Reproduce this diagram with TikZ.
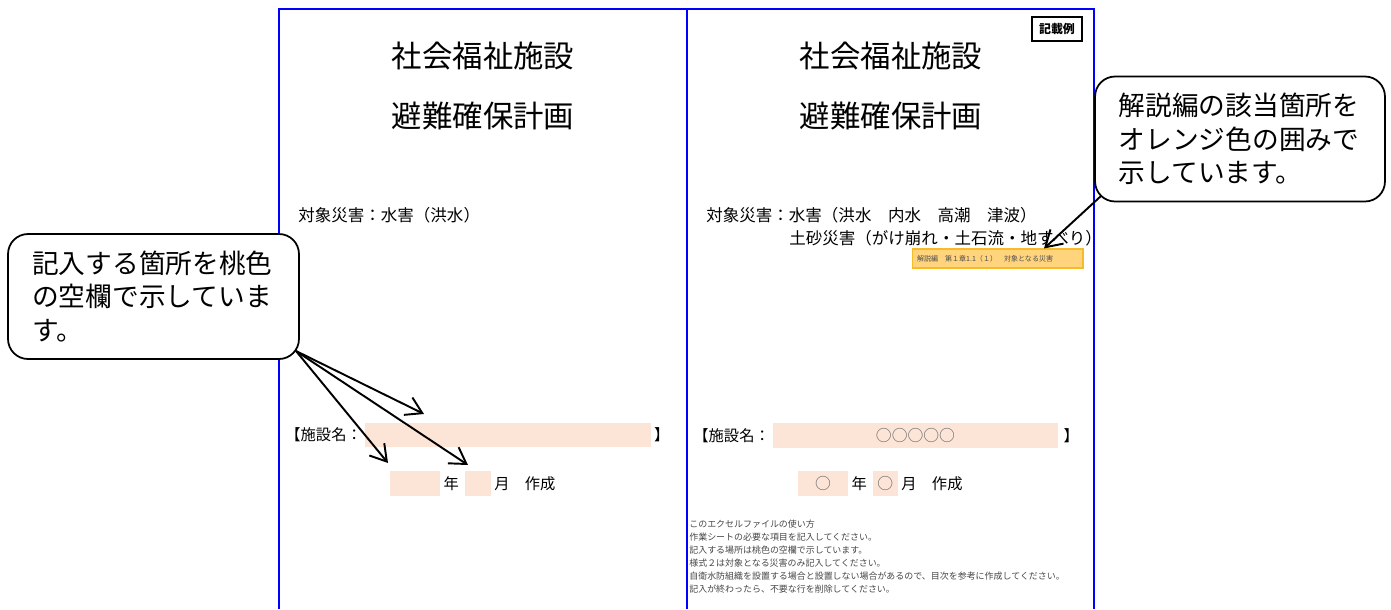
\documentclass[tikz,border=0pt]{standalone}
\usepackage{fontspec}
\setmainfont{Noto Sans CJK JP}
\usepackage{tikz}
\usetikzlibrary{arrows.meta}
\usetikzlibrary{positioning}
\definecolor{peach}{RGB}{252,228,214}
\definecolor{amber}{RGB}{255,212,125}
\definecolor{amberline}{RGB}{247,186,40}
\definecolor{notegray}{RGB}{70,70,70}
\tikzstyle{frame} = [draw=blue, line width=0.6pt]
\tikzstyle{line} = [draw, line width=1.1pt, -{Straight Barb[length=9pt,width=11pt]}]
\tikzstyle{bubble} = [draw, line width=1pt, rounded corners=0.4cm, fill=white,
align=left, text width=138pt, inner xsep=13.5pt, minimum height=2.5cm,
font=\fontsize{15.2pt}{19pt}\selectfont]
\tikzstyle{heading} = [inner sep=0pt, font=\fontsize{17.3pt}{20pt}\selectfont]
\tikzstyle{body} = [inner sep=0pt, font=\fontsize{9.4pt}{11pt}\selectfont]
\tikzstyle{form} = [inner sep=0pt, font=\fontsize{8.7pt}{10pt}\selectfont]

\begin{document}
\begin{tikzpicture}[x=0.02cm, y=-0.02cm, auto,
	field/.style={fill=peach, inner sep=0pt, minimum height=0.49cm,
		font=\fontsize{9pt}{10pt}\selectfont, text=black!60}]
    \useasboundingbox (0,0) rectangle (1391,609);
	%% Pages
    \draw [frame] (279,609) -- (279,9) -- (1094,9) -- (1094,609);
    \draw [frame, line width=1.3pt] (687,9) -- (687,609);
	%% Left page
    \node [heading] (ltitle) at (483,56) {社会福祉施設};
    \node [heading] (lplan) at (483,116) {避難確保計画};
    \node [body, anchor=west] (lhaz) at (298,215) {対象災害：水害（洪水）};
    \node [field, minimum width=5.72cm] (lname) at (508,435) {};
    \node [form, left=0.05cm of lname] (llabel) {【施設名：};
    \node [form, right=0.05cm of lname] (lclose) {】};
    \node [field, minimum width=1cm] (lyear) at (415,483.5) {};
    \node [form, right=0.06cm of lyear] (lnen) {年};
    \node [field, minimum width=0.52cm, right=0.1cm of lnen] (lmonth) {};
    \node [form, right=0.06cm of lmonth] (lgatsu) {月　作成};
	%% Right page
    \node [draw, line width=0.8pt, minimum width=1cm, minimum height=0.48cm,
		inner sep=0pt, font=\fontsize{6.8pt}{8pt}\selectfont\bfseries] (sample) at (1057,29) {記載例};
    \node [heading] (rtitle) at (891,56) {社会福祉施設};
    \node [heading] (rplan) at (891,116) {避難確保計画};
    \node [body, anchor=west] (rhaz) at (706,215) {対象災害：水害（洪水　内水　高潮　津波）};
    \node [body, anchor=west] (rhazb) at (789,238) {土砂災害（がけ崩れ・土石流・地すべり）};
    \node [draw=amberline, fill=amber, line width=0.6pt, minimum width=3.42cm,
		minimum height=0.38cm, inner xsep=0.1cm, text width=3.22cm, align=left,
		font=\fontsize{4pt}{5pt}\selectfont, text=black!70] (ref) at (997.5,258.5)
		{解説編　第１章1.1（１）　対象となる災害};
    \node [field, minimum width=5.7cm] (rname) at (915.5,435.5) {○○○○○};
    \node [form, left=0.05cm of rname] (rlabel) {【施設名：};
    \node [form, right=0.1cm of rname] (rclose) {】};
    \node [field, minimum width=1cm] (ryear) at (823,483.5) {○};
    \node [form, right=0.06cm of ryear] (rnen) {年};
    \node [field, minimum width=0.5cm, right=0.1cm of rnen] (rmonth) {○};
    \node [form, right=0.06cm of rmonth] (rgatsu) {月　作成};
    \node [anchor=north west, inner sep=0pt, align=left, text=notegray,
		font=\fontsize{5.1pt}{7.4pt}\selectfont] (notes) at (689,520)
		{このエクセルファイルの使い方\\
		作業シートの必要な項目を記入してください。\\
		記入する場所は桃色の空欄で示しています。\\
		様式２は対象となる災害のみ記入してください。\\
		自衛水防組織を設置する場合と設置しない場合があるので、目次を参考に作成してください。\\
		記入が終わったら、不要な行を削除してください。};
	%% Callouts
    \node [bubble, minimum width=5.82cm] (lcall) at (153.5,296.5)
		{記入する箇所を桃色\\の空欄で示していま\\す。};
    \node [bubble, minimum width=5.76cm] (rcall) at (1240,139)
		{解説編の該当箇所を\\オレンジ色の囲みで\\示しています。};
    \coordinate (ltail) at (296,351);
    \coordinate (rtail) at (1101,196);
    \coordinate (lhitA) at (424,414);
    \coordinate (lhitB) at (388,463);
    \coordinate (lhitC) at (468,465);
	%% Arrows
    \path [line] (ltail) to (lhitA);
    \path [line] (ltail) to (lhitB);
    \path [line] (ltail) to (lhitC);
    \path [line] (rtail) to (ref.north east -| 1044,0);
\end{tikzpicture}
\end{document}
